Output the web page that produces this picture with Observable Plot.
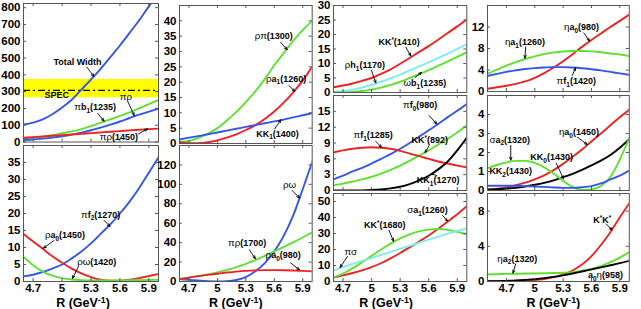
<!DOCTYPE html>
<html><head><meta charset="utf-8">
<script src="https://cdn.jsdelivr.net/npm/d3@7"></script>
<script src="https://cdn.jsdelivr.net/npm/@observablehq/plot@0.6"></script>
<style>
body{margin:0;background:#fff;}
#wrap{position:relative;width:641px;height:309px;overflow:hidden;background:#fff;}
#wrap svg{position:absolute;background:transparent !important;max-width:none !important;overflow:visible;font-family:"Liberation Sans",Arial,sans-serif;}
#wrap svg g[aria-label="y-axis tick label"] text,#wrap svg g[aria-label="x-axis tick label"] text{font-weight:bold;font-size:11.5px;}
</style></head><body><div id="wrap"></div>
<script>
// ---------- data ----------
const R = [4.6,4.7,4.8,4.9,5.0,5.1,5.2,5.3,5.4,5.5,5.6,5.7,5.8,5.9,6.0];          // columns 1-3
const R4 = [4.5,4.6,4.7,4.8,4.9,5.0,5.1,5.2,5.3,5.4,5.5,5.6,5.7,5.8,5.9,6.0];     // column 4
const xTicks = [4.7,5,5.3,5.6,5.9];
const xTickLabels = ["4.7","5","5.3","5.6","5.9"];
const xAxisTitle = "R (GeV^{-1})";

// panel 1
const p1_yTicks = [0,100,200,300,400,500,600,700,800];
const p1_totalWidth = [104,115,135,165,205,252,312,372,435,505,575,650,725,808,890];
const p1_pib1 = [22,26,32,40,52,63,77,95,115,135,155,177,200,225,251];
const p1_pirho = [12,15,20,26,34,44,56,70,86,103,122,143,163,181,199];
const p1_pirho1450 = [25,29,33,37,41,45,49,53,57,61,65,69,73,77,80];
const p1_specBand = [263,373];
const p1_specLine = 307;
// panel 2
const p2_yTicks = [0,5,10,15,20,25,30,35];
const p2_pif2 = [1.5,2.0,2.8,3.8,5.0,6.8,8.8,11.2,14.0,16.8,20.0,23.5,27.5,32.0,36.5];
const p2_rhoa0 = [14.0,11.8,9.6,7.4,5.5,3.8,2.4,1.3,0.5,0.2,0.2,0.5,1.0,1.6,2.2];
const p2_rhoomega = [7.2,4.8,2.9,1.7,1.0,0.6,0.4,0.3,0.3,0.3,0.3,0.35,0.4,0.45,0.5];
// panel 3
const p3_yTicks = [0,5,10,15,20,25,30,35,40];
const p3_rhopi = [0.5,0.8,1.8,3.2,5.0,7.5,10.3,13.5,17.0,21.0,25.5,29.5,33.5,37.0,40.0];
const p3_rhoa1 = [0.4,0.1,0.1,0.4,1.0,1.9,3.0,4.4,6.0,8.0,10.4,13.3,16.7,20.5,25.0];
const p3_kk1 = [1.3,1.9,2.4,3.0,3.6,4.2,4.8,5.4,6.0,6.6,7.2,7.8,8.5,9.2,9.9];
// panel 4
const p4_yTicks = [0,20,40,60,80,100,120];
const p4_rhoomega = [2.4,1.7,1.0,0.4,0.1,0.3,1.5,4.5,10.5,19,31,47,68,95,123];
const p4_pirho1700 = [2.5,3.9,5.5,7.3,9.4,11.9,14.8,18.2,22.0,26.3,31.0,35.6,40.3,45.3,50.5];
const p4_rhoa0 = [2.4,4.0,5.5,6.8,8.0,9.2,10.2,10.9,11.4,11.7,11.7,11.6,11.3,10.9,10.4];
// panel 5
const p5_yTicks = [0,5,10,15,20,25,30];
const p5_kkstar1410 = [1.8,2.4,3.1,4.0,5.0,6.4,8.0,9.9,11.9,14.0,16.0,18.2,20.5,22.8,25.2];
const p5_rhoh1 = [0.2,0.5,1.0,1.7,2.6,3.7,4.9,6.2,7.6,9.0,10.4,11.9,13.4,15.0,16.7];
const p5_omegab1 = [0,0.05,0.2,0.5,1.0,1.7,2.6,3.7,5.0,6.3,7.7,9.2,10.7,12.3,13.9];
// panel 6
const p6_yTicks = [0,3,6,9,12,15];
const p6_pif0 = [2.1,2.8,3.6,4.3,5.1,6.0,6.9,7.9,9.0,10.2,11.4,12.6,13.9,15.1,16.4];
const p6_kkstar892 = [1.0,1.3,1.7,2.1,2.6,3.2,3.9,4.7,5.6,6.6,7.6,8.7,9.8,11.0,12.3];
const p6_pif1 = [7.2,7.6,7.9,8.1,8.2,8.1,7.9,7.5,7.0,6.5,6.0,5.5,5.1,4.7,4.4];
const p6_kk1 = [0,0,0,0.02,0.08,0.2,0.4,0.7,1.2,1.9,2.8,4.0,5.5,7.6,10.0];
// panel 7
const p7_yTicks = [0,10,20,30,40,50];
const p7_sigmaa1 = [2.5,3.8,5.3,7.0,9.0,11.4,14.4,17.8,21.3,25.0,28.8,33.0,37.5,42.0,47.0];
const p7_kkstar1680 = [2.5,5.0,8.2,12.0,16.0,20.0,23.7,27.0,29.5,31.3,32.4,32.8,32.3,31.0,29.5];
const p7_pisigma = [7.0,9.0,11.0,12.9,14.7,16.6,18.5,20.4,22.3,24.2,26.2,28.1,29.9,31.6,33.3];
// panel 8 (column 4, x from 4.5)
const p8_yTicks = [0,4,8,12];
const p8_etaa0 = [0.5,0.78,1.06,1.42,1.87,2.54,3.42,4.46,5.63,6.94,8.3,9.58,10.8,12.0,13.14,14.3];
const p8_etaa1 = [3.3,4.05,4.8,5.47,6.05,6.54,6.95,7.27,7.45,7.52,7.53,7.46,7.29,7.07,6.87,6.6];
const p8_pif1 = [2.9,3.27,3.65,3.94,4.19,4.35,4.46,4.53,4.53,4.46,4.33,4.14,3.93,3.65,3.37,3.1];
// panel 9
const p9_yTicks = [0,1,2,3,4];
const p9_etaa0 = [0.05,0.1,0.16,0.28,0.41,0.59,0.8,1.07,1.4,1.77,2.16,2.58,3.0,3.43,3.85,4.25];
const p9_kk0 = [0.04,0.07,0.1,0.14,0.21,0.3,0.4,0.53,0.7,0.88,1.09,1.32,1.57,1.87,2.25,2.7];
const p9_sigmaa2 = [1.17,1.34,1.48,1.56,1.56,1.45,1.22,0.89,0.51,0.19,0.03,0.06,0.24,0.71,1.63,2.75];
const p9_kk2 = [0.25,0.25,0.25,0.25,0.23,0.21,0.19,0.16,0.14,0.14,0.17,0.23,0.37,0.58,0.78,1.05];
// panel 10
const p10_yTicks = [0,4,8];
const p10_kstarkstar = [0.02,0.03,0.05,0.07,0.11,0.17,0.29,0.49,0.8,1.25,1.92,2.88,4.15,5.6,7.29,8.9];
const p10_etaa2 = [0.8,0.83,0.86,0.88,0.9,0.91,0.93,0.96,1.0,1.07,1.22,1.44,1.75,2.19,2.72,3.35];
const p10_a0eta = [0.02,0.04,0.07,0.11,0.18,0.27,0.38,0.52,0.7,0.91,1.14,1.37,1.61,1.84,2.08,2.35];

// ---------- styles ----------
const BLUE = "#3355ee", GREEN = "#5ee02e", RED = "#ee2222", CYAN = "#7beeea", BLACK = "#000000", YELLOW = "#ffff00";

const L = (x, y, t) => ({x, y, t});
const A = (x1, y1, x2, y2) => ({x1, y1, x2, y2});

const panels = [
  {left:22.7, top:3, w:135, h:138.5, y:[0,825], yTicks:p1_yTicks, band:p1_specBand, bandLine:p1_specLine,
   series:[{v:p1_totalWidth,c:BLUE},{v:p1_pib1,c:GREEN},{v:p1_pirho,c:BLUE},{v:p1_pirho1450,c:RED}],
   labels:[L(5.16,475,"Total Width"),L(4.945,281,"SPEC"),L(5.343,207,"πb_1(1235)"),L(5.661,267,"πρ"),L(5.59,29,"πρ(1450)")],
   arrows:[A(5.257,446,5.33,390),A(5.37,170,5.436,124),A(5.685,238,5.747,158),A(5.79,48,5.886,78)]},
  {left:22.7, top:145, w:135, h:136, y:[0,40], yTicks:p2_yTicks, bottom:true, titleDx:-8,
   series:[{v:p2_pif2,c:BLUE},{v:p2_rhoa0,c:RED},{v:p2_rhoomega,c:GREEN}],
   labels:[L(5.40,19.6,"πf_2(1270)"),L(5.03,13.7,"ρa_0(1450)"),L(5.36,5.7,"ρω(1420)")],
   arrows:[A(5.435,18.0,5.497,16.2),A(4.917,12.1,4.807,9.8),A(5.166,4.2,5.108,0.9)]},
  {left:179, top:5, w:132.7, h:138, y:[0,45], yTicks:p3_yTicks,
   series:[{v:p3_rhopi,c:GREEN},{v:p3_rhoa1,c:RED},{v:p3_kk1,c:BLUE}],
   labels:[L(5.595,34.9,"ρπ(1300)"),L(5.725,21.1,"ρa_1(1260)"),L(5.634,3.2,"KK_1(1400)")],
   arrows:[A(5.666,33,5.736,30.6),A(5.753,18.9,5.817,17.0),A(5.605,4.8,5.669,7.7)]},
  {left:179, top:145, w:132.7, h:136, y:[0,140], yTicks:p4_yTicks, bottom:true, titleDx:-10,
   series:[{v:p4_rhoomega,c:BLUE},{v:p4_pirho1700,c:GREEN},{v:p4_rhoa0,c:RED}],
   labels:[L(5.76,98.8,"ρω"),L(5.314,39.4,"πρ(1700)"),L(5.694,26.7,"ρa_0(980)")],
   arrows:[A(5.789,93.7,5.866,86),A(5.338,32.6,5.40,23.5),A(5.771,19.2,5.866,12.0)]},
  {left:332.7, top:5, w:133.3, h:87, y:[0,30], yTicks:p5_yTicks,
   series:[{v:p5_kkstar1410,c:RED},{v:p5_rhoh1,c:CYAN},{v:p5_omegab1,c:GREEN}],
   labels:[L(5.289,17.3,"KK^*(1410)"),L(4.929,9.3,"ρh_1(1170)"),L(5.559,3.2,"ωb_1(1235)")],
   arrows:[A(5.36,15.6,5.412,12.6),A(4.999,7.6,5.044,3.3),A(5.454,5.1,5.524,6.9)]},
  {left:332.7, top:95, w:133.3, h:95, y:[0,18], yTicks:p6_yTicks,
   series:[{v:p6_pif0,c:BLUE},{v:p6_kkstar892,c:GREEN},{v:p6_pif1,c:RED},{v:p6_kk1,c:BLACK}],
   labels:[L(5.51,16.1,"πf_0(980)"),L(5.016,10.4,"πf_1(1285)"),L(5.611,9.6,"KK^*(892)"),L(5.699,1.9,"KK_1(1270)")],
   arrows:[A(5.604,14.2,5.685,12.6),A(5.044,9.3,5.104,8.2),A(5.604,8.5,5.562,7.2),A(5.685,2.8,5.629,3.2)]},
  {left:332.7, top:193, w:133.3, h:88, y:[0,55], yTicks:p7_yTicks, bottom:true, titleDx:-14,
   series:[{v:p7_sigmaa1,c:RED},{v:p7_kkstar1680,c:GREEN},{v:p7_pisigma,c:CYAN}],
   labels:[L(5.587,44.4,"σa_1(1260)"),L(5.139,35,"KK^*(1680)"),L(4.782,18.3,"πσ")],
   arrows:[A(5.745,41.3,5.797,37.8),A(5.184,31.9,5.23,25.2),A(4.747,15.6,4.669,8.8)]},
  {left:486.7, top:5, w:141.8, h:86, y:[0,16], yTicks:p8_yTicks, col4:true,
   series:[{v:p8_etaa0,c:RED},{v:p8_etaa1,c:GREEN},{v:p8_pif1,c:BLUE}],
   labels:[L(4.896,9.2,"ηa_1(1260)"),L(5.495,12.0,"ηa_0(980)"),L(5.439,1.9,"πf_1(1420)")],
   arrows:[A(4.904,8.3,4.896,6.2),A(5.519,10.9,5.579,9.4),A(5.396,2.97,5.432,4.4)]},
  {left:486.7, top:95, w:141.8, h:95, y:[0,5], yTicks:p9_yTicks, col4:true,
   series:[{v:p9_etaa0,c:RED},{v:p9_kk0,c:BLACK},{v:p9_sigmaa2,c:GREEN},{v:p9_kk2,c:BLUE}],
   labels:[L(4.735,2.67,"σa_2(1320)"),L(5.467,3.07,"ηa_0(1450)"),L(5.178,1.75,"KK_0(1430)"),L(4.745,1.02,"KK_2(1430)")],
   arrows:[A(4.746,2.37,4.746,1.6),A(5.45,2.81,5.555,2.42),A(5.227,1.44,5.304,0.62)]},
  {left:486.7, top:193, w:141.8, h:88, y:[0,10], yTicks:p10_yTicks, bottom:true, col4:true, titleDx:-5,
   series:[{v:p10_kstarkstar,c:RED},{v:p10_etaa2,c:GREEN},{v:p10_a0eta,c:BLACK}],
   labels:[L(5.713,7.0,"K^*K^*"),L(4.816,2.58,"ηa_2(1320)"),L(5.748,0.68,"a_0η(958)")],
   arrows:[A(5.755,6.55,5.818,5.85),A(4.798,2.0,4.770,0.95)]}
];

// ---------- rich text (sub/superscripts, Greek in normal weight) ----------
function richify(svg) {
  d3.select(svg).selectAll('g[aria-label="text"] text').each(function() {
    const s = this.textContent;
    const fs = parseFloat(getComputedStyle(this).fontSize) || 10;
    const tokens = [];
    let i = 0;
    while (i < s.length) {
      const c = s[i];
      if (c === "_" || c === "^") {
        let t;
        if (s[i+1] === "{") { const j = s.indexOf("}", i); t = s.slice(i+2, j); i = j + 1; }
        else { t = s[i+1]; i += 2; }
        tokens.push({t, m: c});
      } else {
        let j = i; while (j < s.length && s[j] !== "_" && s[j] !== "^") j++;
        s.slice(i, j).split(/([\u0370-\u03FF]+)/).filter(x => x).forEach(x =>
          tokens.push({t: x, m: /[\u0370-\u03FF]/.test(x) ? "g" : ""}));
        i = j;
      }
    }
    this.textContent = "";
    let off = 0;
    for (const tk of tokens) {
      const ts = document.createElementNS("http://www.w3.org/2000/svg", "tspan");
      let target = 0;
      if (tk.m === "_") { target = fs * 0.3; ts.setAttribute("font-size", fs * 0.72); }
      else if (tk.m === "^") { target = -fs * 0.33; ts.setAttribute("font-size", fs * 0.7); }
      else if (tk.m === "g") { ts.setAttribute("font-weight", "normal"); ts.setAttribute("font-size", fs * 1.08); }
      const dy = target - off; off = target;
      if (dy) ts.setAttribute("dy", dy.toFixed(2));
      ts.textContent = tk.t;
      this.appendChild(ts);
    }
  });
}

// ---------- build panels ----------
const wrap = document.getElementById("wrap");
for (const p of panels) {
  const ml = 30, mr = 4, mt = 4, mb = p.bottom ? 28 : 4;
  const W = p.w, H = p.h;
  const xs = p.col4 ? R4 : R;
  const xDomain = p.col4 ? [4.5, 6.0] : [4.6, 6.0];
  const marks = [];
  if (p.band) {
    marks.push(Plot.rect([p.band], {y1: d => d[0], y2: d => d[1], fill: YELLOW}));
    marks.push(Plot.ruleY([p.bandLine], {stroke: "#000", strokeWidth: 1.2, strokeDasharray: "7,3,2,3"}));
  }
  for (const s of p.series) {
    marks.push(Plot.line(xs.map((r, i) => ({R: r, v: s.v[i]})),
      {x: "R", y: "v", stroke: s.c, strokeWidth: 1.9, curve: "monotone-x", clip: true}));
  }
  marks.push(Plot.frame({stroke: "#555"}));
  marks.push(Plot.tickX(xTicks, {x: d => d, insetTop: H - 3, stroke: "#555"}));
  marks.push(Plot.tickX(xTicks, {x: d => d, insetBottom: H - 3, stroke: "#555"}));
  marks.push(Plot.tickY(p.yTicks, {y: d => d, insetRight: W - 3, stroke: "#555"}));
  marks.push(Plot.tickY(p.yTicks, {y: d => d, insetLeft: W - 3, stroke: "#555"}));
  marks.push(Plot.axisY({ticks: p.yTicks, anchor: "left", tickSize: 0, tickPadding: 3, tickFormat: d => String(d), label: null}));
  if (p.bottom) {
    marks.push(Plot.axisX({ticks: xTicks, anchor: "bottom", tickSize: 0, tickPadding: 2,
      tickFormat: d => xTickLabels[xTicks.indexOf(d)], label: null}));
    marks.push(Plot.text([xAxisTitle], {frameAnchor: "bottom", lineAnchor: "middle", dy: 21.3, dx: p.titleDx || 0,
      text: d => d, fontSize: 12.5, fontWeight: "bold"}));
  }
  marks.push(Plot.arrow(p.arrows, {x1: "x1", y1: "y1", x2: "x2", y2: "y2", stroke: "#000", strokeWidth: 0.9, headLength: 5, headAngle: 45}));
  marks.push(Plot.text(p.labels, {x: "x", y: "y", text: "t", fontSize: 9, fontWeight: "bold"}));
  const svg = Plot.plot({
    width: W + ml + mr, height: H + mt + mb,
    marginLeft: ml, marginRight: mr, marginTop: mt, marginBottom: mb,
    x: {domain: xDomain, axis: null},
    y: {domain: p.y, axis: null},
    style: {background: "transparent", fontFamily: "'Liberation Sans', Arial, sans-serif", overflow: "visible"},
    marks
  });
  svg.style.left = (p.left - ml) + "px";
  svg.style.top = (p.top - mt) + "px";
  wrap.appendChild(svg);
  richify(svg);
}
</script>
</body></html>
